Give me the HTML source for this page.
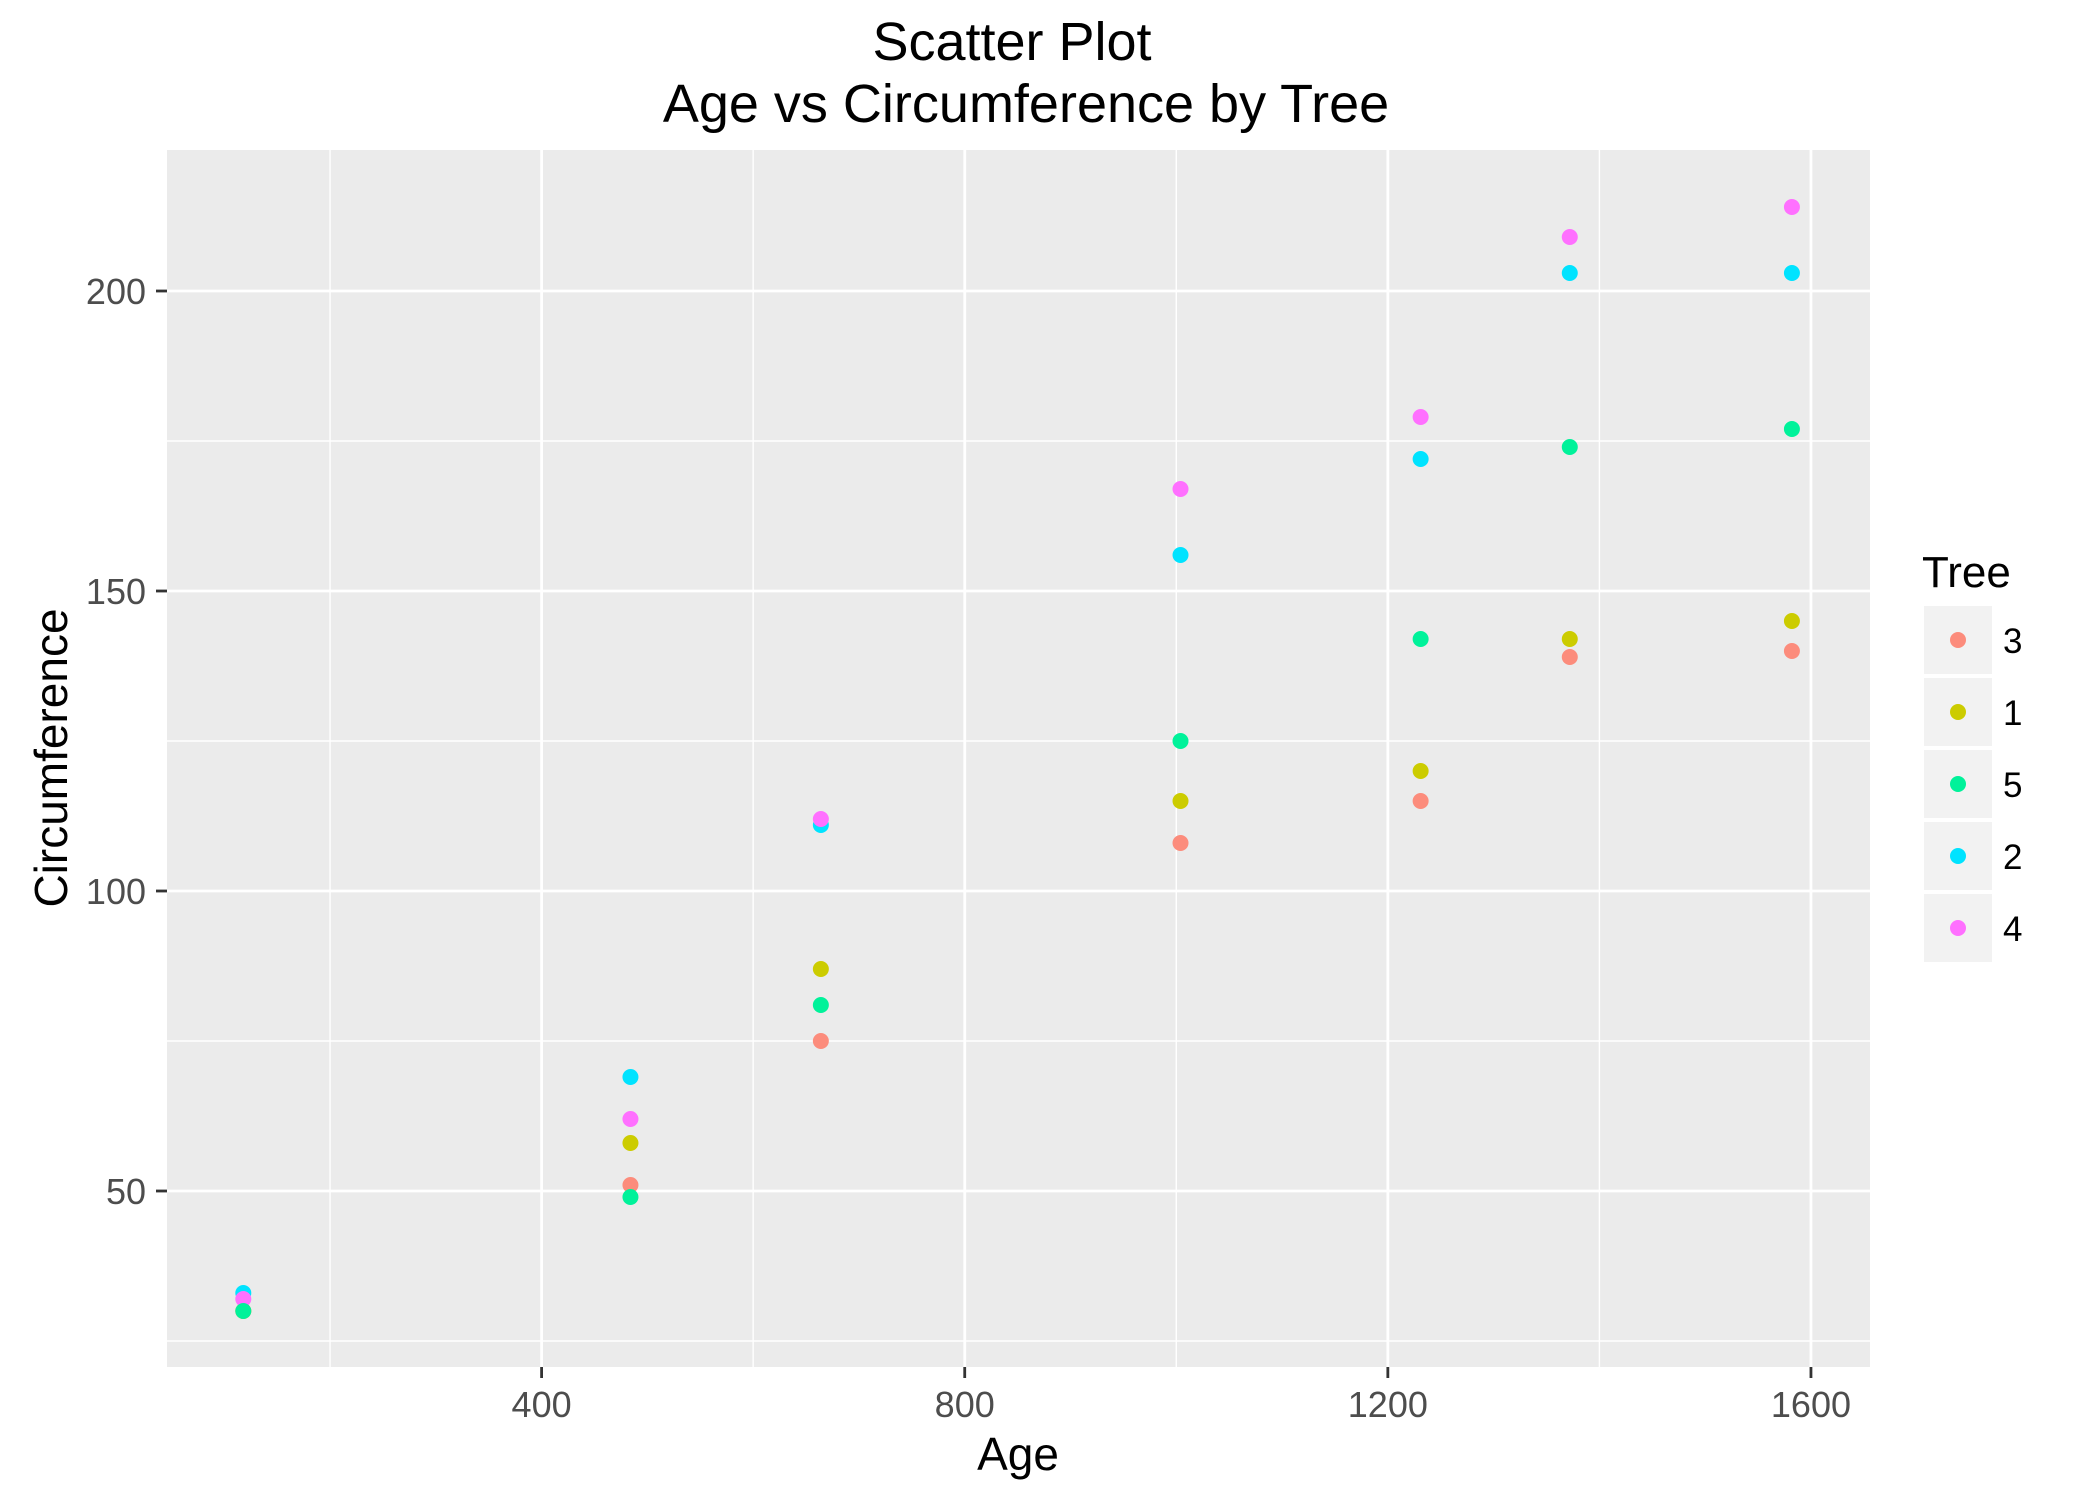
<!DOCTYPE html>
<html><head><meta charset="utf-8"><style>
html,body{margin:0;padding:0;background:#fff;}
svg{display:block;font-family:"Liberation Sans",Arial,sans-serif;}
</style></head><body>
<svg id="chart" width="2100" height="1500" viewBox="0 0 2100 1500">
<text x="1012" y="60" font-size="54" text-anchor="middle" fill="#000">Scatter Plot</text>
<text x="1026" y="122" font-size="54" text-anchor="middle" fill="#000">Age vs Circumference by Tree</text>
<rect x="167" y="150" width="1703" height="1217" fill="#ebebeb"/>
<g id="grid"></g>
<g id="axes"></g>
<g id="points"></g>
<text x="1018" y="1470" font-size="46" text-anchor="middle" fill="#000">Age</text>
<text transform="translate(67,758) rotate(-90)" font-size="46" text-anchor="middle" fill="#000">Circumference</text>
<g id="legend">
<text x="1922" y="587" font-size="44" fill="#000">Tree</text>
</g>
</svg>
<script>
const ages = [118, 484, 664, 1004, 1231, 1372, 1582];
const treeIds = ["1", "2", "3", "4", "5"];
const tree1 = [30, 58, 87, 115, 120, 142, 145];
const tree2 = [33, 69, 111, 156, 172, 203, 203];
const tree3 = [30, 51, 75, 108, 115, 139, 140];
const tree4 = [32, 62, 112, 167, 179, 209, 214];
const tree5 = [30, 49, 81, 125, 142, 174, 177];
const legendOrder = ["3", "1", "5", "2", "4"];
const xTicks = [400, 800, 1200, 1600];
const xMinor = [200, 600, 1000, 1400];
const yTicks = [50, 100, 150, 200];
const yMinor = [25, 75, 125, 175];

const series = {"1": tree1, "2": tree2, "3": tree3, "4": tree4, "5": tree5};
const colors = {"3": "#fc8c7c", "1": "#cccc00", "5": "#00f29a", "2": "#00e3ff", "4": "#ff70ff"};
const NS = "http://www.w3.org/2000/svg";
const PL = 167, PR = 1870, PT = 150, PB = 1367;
function xs(v){ return 541.6 + (v - 400) * 1.0578; }
function ys(v){ return 1191 - (v - 50) * 6; }
function mk(tag, attrs, parent){
  const e = document.createElementNS(NS, tag);
  for (const k in attrs) e.setAttribute(k, attrs[k]);
  parent.appendChild(e); return e;
}
const grid = document.getElementById('grid');
const axes = document.getElementById('axes');
yMinor.forEach(v => {
  const l = mk('line', {x1: PL, x2: PR, y1: ys(v), y2: ys(v), stroke: '#fff', 'stroke-width': 1.4}, grid);
  
  
});
xMinor.forEach(v => {
  const l = mk('line', {x1: xs(v), x2: xs(v), y1: PT, y2: PB, stroke: '#fff', 'stroke-width': 1.4}, grid);
  
  
});
yTicks.forEach(v => {
  const l = mk('line', {x1: PL, x2: PR, y1: ys(v), y2: ys(v), stroke: '#fff', 'stroke-width': 2.8}, grid);
  
  
  const t = mk('line', {x1: 156, x2: PL, y1: ys(v), y2: ys(v), stroke: '#333', 'stroke-width': 2.8}, axes);
  
  
  const tx = mk('text', {x: 146, y: ys(v) + 13, 'font-size': 36, 'text-anchor': 'end', fill: '#4d4d4d'}, axes);
  tx.textContent = v;
  
  
});
xTicks.forEach(v => {
  const l = mk('line', {x1: xs(v), x2: xs(v), y1: PT, y2: PB, stroke: '#fff', 'stroke-width': 2.8}, grid);
  
  
  const t = mk('line', {x1: xs(v), x2: xs(v), y1: PB, y2: 1378, stroke: '#333', 'stroke-width': 2.8}, axes);
  
  
  const tx = mk('text', {x: xs(v), y: 1417, 'font-size': 36, 'text-anchor': 'middle', fill: '#4d4d4d'}, axes);
  tx.textContent = v;
  
  
});
const pts = document.getElementById('points');
treeIds.forEach(id => {
  series[id].forEach((c, i) => {
    const p = mk('circle', {cx: xs(ages[i]), cy: ys(c), r: 8, fill: colors[id]}, pts);
    
    
  });
});
const lg = document.getElementById('legend');
legendOrder.forEach((id, i) => {
  const y0 = 606 + i * 72;
  const r = mk('rect', {x: 1924, y: y0, width: 68, height: 68, fill: '#f2f2f2'}, lg);
  
  
  const c = mk('circle', {cx: 1958, cy: y0 + 34, r: 8, fill: colors[id]}, lg);
  
  
  const t = mk('text', {x: 2003, y: y0 + 47, 'font-size': 35, fill: '#000'}, lg);
  t.textContent = id;
  
  
});
</script>
</body></html>
